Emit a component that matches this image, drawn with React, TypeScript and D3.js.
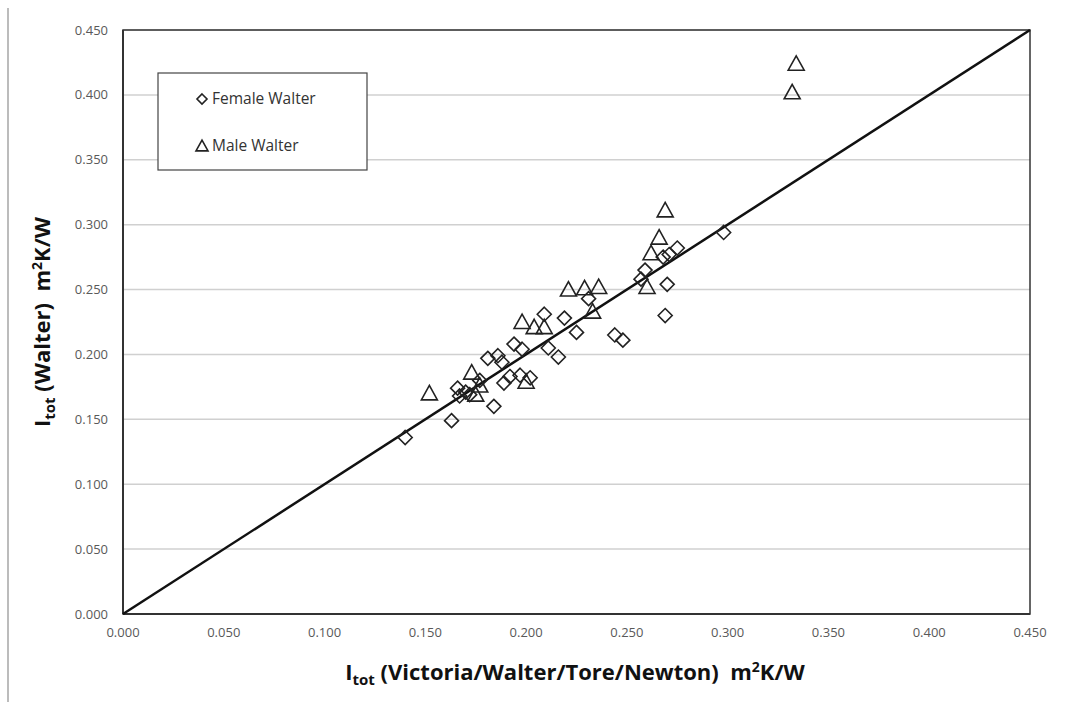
import React from "react";
import * as d3 from "d3";

const xTicks = [0, 0.05, 0.1, 0.15, 0.2, 0.25, 0.3, 0.35, 0.4, 0.45];
const yTicks = [0, 0.05, 0.1, 0.15, 0.2, 0.25, 0.3, 0.35, 0.4, 0.45];

const femaleX = [0.140, 0.163, 0.166, 0.167, 0.170, 0.172, 0.177, 0.181, 0.184, 0.186, 0.188, 0.189, 0.192, 0.194, 0.197, 0.198, 0.202, 0.209, 0.211, 0.216, 0.219, 0.225, 0.231, 0.244, 0.248, 0.257, 0.259, 0.268, 0.271, 0.275, 0.270, 0.269, 0.298];
const femaleY = [0.136, 0.149, 0.174, 0.168, 0.171, 0.169, 0.180, 0.197, 0.160, 0.199, 0.194, 0.178, 0.183, 0.208, 0.184, 0.204, 0.182, 0.231, 0.205, 0.198, 0.228, 0.217, 0.243, 0.215, 0.211, 0.258, 0.265, 0.275, 0.277, 0.282, 0.254, 0.230, 0.294];

const maleX = [0.152, 0.173, 0.175, 0.177, 0.200, 0.198, 0.204, 0.209, 0.221, 0.229, 0.236, 0.233, 0.260, 0.262, 0.266, 0.269, 0.332, 0.334];
const maleY = [0.170, 0.186, 0.169, 0.176, 0.179, 0.225, 0.221, 0.221, 0.250, 0.251, 0.252, 0.233, 0.252, 0.278, 0.290, 0.311, 0.402, 0.424];

const seriesNames = ["Female Walter", "Male Walter"];

export default function App() {
  const left = 123, right = 1030, top = 30, bottom = 614;
  const x = d3.scaleLinear().domain([0, 0.45]).range([left, right]);
  const y = d3.scaleLinear().domain([0, 0.45]).range([bottom, top]);
  const fmt = d3.format(".3f");
  const tickFont = "Open Sans, Noto Sans, sans-serif";
  const diamondPath = (s: number) => `M0,${-s}L${s},0L0,${s}L${-s},0Z`;
  const triPath = (w: number) => {
    const h = w * 0.9;
    return `M0,${-h * 0.55}L${w / 2},${h * 0.45}L${-w / 2},${h * 0.45}Z`;
  };
  const line = d3.line<number>().x((d) => x(d)).y((d) => y(d));

  return (
    <svg width={1082} height={708} style={{ position: "absolute", left: 0, top: 0, background: "#fff" }}>
      <line x1={8} x2={8} y1={8} y2={702} stroke="#a6a6a6" strokeWidth={1.5} />
      {yTicks.map((t) => (
        <line key={"g" + t} x1={left} x2={right} y1={y(t)} y2={y(t)} stroke="#d0d0d0" strokeWidth={1.5} />
      ))}
      <rect x={left} y={top} width={right - left} height={bottom - top} fill="none" stroke="#333" strokeWidth={1.5} />
      <line x1={left} x2={right} y1={bottom} y2={bottom} stroke="#333" strokeWidth={2} />
      <line x1={left} x2={left} y1={top} y2={bottom} stroke="#333" strokeWidth={2} />
      {yTicks.map((t) => (
        <text key={"yt" + t} x={108} y={y(t)} dy="0.35em" textAnchor="end" fontFamily={tickFont} fontSize={13} fill="#595959">
          {fmt(t)}
        </text>
      ))}
      {xTicks.map((t) => (
        <text key={"xt" + t} x={x(t)} y={bottom + 23} textAnchor="middle" fontFamily={tickFont} fontSize={13} fill="#595959">
          {fmt(t)}
        </text>
      ))}
      <path d={line([0, 0.45]) as string} stroke="#111" strokeWidth={2.5} fill="none" />
      {femaleX.map((v, i) => (
        <path key={"f" + i} d={diamondPath(7)} transform={`translate(${x(v)},${y(femaleY[i])})`} fill="none" stroke="#222" strokeWidth={1.6} />
      ))}
      {maleX.map((v, i) => (
        <path key={"m" + i} d={triPath(16)} transform={`translate(${x(v)},${y(maleY[i])})`} fill="none" stroke="#222" strokeWidth={1.6} />
      ))}
      <rect x={158} y={73} width={209} height={97} fill="#fff" stroke="#444" strokeWidth={1.2} />
      <path d={diamondPath(5)} transform="translate(202,99)" fill="none" stroke="#222" strokeWidth={1.6} />
      <text x={212} y={99} dy="0.35em" fontFamily={tickFont} fontSize={15.5} fill="#333">{seriesNames[0]}</text>
      <path d={triPath(12)} transform="translate(202,146)" fill="none" stroke="#222" strokeWidth={1.6} />
      <text x={212} y={146} dy="0.35em" fontFamily={tickFont} fontSize={15.5} fill="#333">{seriesNames[1]}</text>
      <text x={575} y={680} textAnchor="middle" fontFamily={tickFont} fontSize={22} fontWeight="bold" fill="#111" style={{ whiteSpace: "pre" }}>
        I<tspan fontSize={15} dy={5}>tot</tspan><tspan dy={-5}>{" (Victoria/Walter/Tore/Newton)  m"}</tspan><tspan fontSize={14} dy={-8}>2</tspan><tspan dy={8}>K/W</tspan>
      </text>
      <text transform="translate(50,322) rotate(-90)" textAnchor="middle" fontFamily={tickFont} fontSize={22} fontWeight="bold" fill="#111" style={{ whiteSpace: "pre" }}>
        I<tspan fontSize={15} dy={5}>tot</tspan><tspan dy={-5}>{" (Walter)  m"}</tspan><tspan fontSize={14} dy={-8}>2</tspan><tspan dy={8}>K/W</tspan>
      </text>
    </svg>
  );
}
